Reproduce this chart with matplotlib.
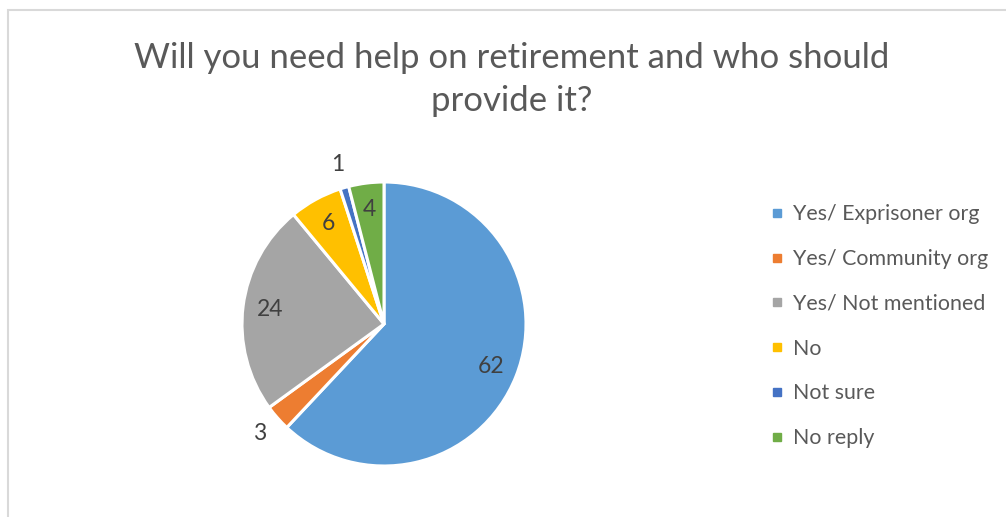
import numpy as np
import matplotlib
matplotlib.use("Agg")
import matplotlib.pyplot as plt
from matplotlib.patches import Rectangle
from matplotlib.lines import Line2D

plt.rcParams['font.family'] = ['Lato', 'DejaVu Sans']

# survey answers, clockwise from twelve o'clock
answers = ["Yes/ Exprisoner org", "Yes/ Community org", "Yes/ Not mentioned",
           "No", "Not sure", "No reply"]
counts = [62, 3, 24, 6, 1, 4]
colors = ["#5B9BD5", "#ED7D31", "#A5A5A5", "#FFC000", "#4472C4", "#70AD47"]

title = "Will you need help on retirement and who should\nprovide it?"

W, H = 1006, 517
fig = plt.figure(figsize=(W / 100, H / 100), dpi=100)

# chart frame
fig.patches.append(Rectangle((7.5 / W, -0.05), 1.1, 1 - 10 / H + 0.05,
                             transform=fig.transFigure, fill=False,
                             edgecolor="#d9d9d9", linewidth=1.5))

cx, cy, r = 384, 324, 142
ax = fig.add_axes([(cx - r) / W, (H - cy - r) / H, 2 * r / W, 2 * r / H])
wedges, _ = ax.pie(counts, colors=colors, startangle=90, counterclock=False,
                   radius=1, wedgeprops=dict(edgecolor="white", linewidth=2.2))
ax.set_xlim(-1, 1)
ax.set_ylim(-1, 1)
ax.set_aspect("equal")
ax.axis("off")

# value labels: inside the slice, or just outside for the thin ones
for w, n in zip(wedges, counts):
    mid = np.deg2rad((w.theta1 + w.theta2) / 2)
    dist = 1.17 if n < 4 else 0.81
    ax.text(dist * np.cos(mid), dist * np.sin(mid), str(n), ha="center",
            va="center", fontsize=16.5, color="#404040", clip_on=False)

fig.text(512 / W, 1 - 79.5 / H, title, ha="center", va="center", fontsize=25,
         color="#595959", linespacing=1.39)

handles = [Line2D([], [], linestyle="none", marker="s", markersize=5.2,
                  markerfacecolor=c, markeredgecolor=c) for c in colors]
fig.legend(handles, answers, loc="upper left", bbox_to_anchor=(751 / W, 1 - 185 / H),
           frameon=False, fontsize=15.4, labelcolor="#595959",
           handlelength=0.6, handletextpad=0.45, labelspacing=1.16)

fig.savefig("out.png", dpi=100)
